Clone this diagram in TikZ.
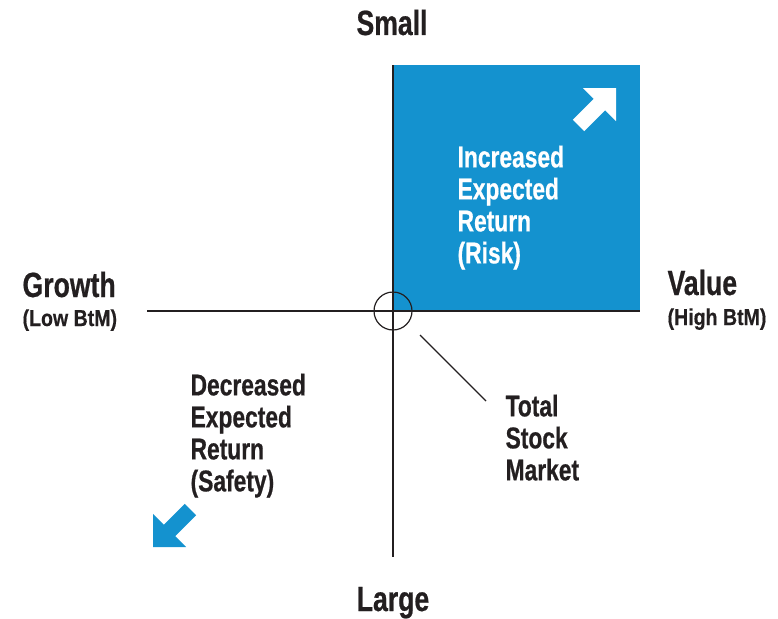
\documentclass[tikz,border=0pt]{standalone}
\usepackage{fontspec}
\newfontfamily\labelfont{Liberation Sans Bold}[FakeStretch=0.76, FakeBold=0.6]
\newfontfamily\notefont{Liberation Sans Bold}[FakeStretch=0.85, FakeBold=0.4]
\definecolor{quadblue}{RGB}{20,146,207}
\definecolor{inkdark}{RGB}{35,31,32}
\tikzset{every path/.style={inkdark, line width=1.2pt},
  axislabel/.style={inner sep=0pt, text=inkdark, font=\labelfont\fontsize{35}{38}\selectfont},
  sublabel/.style={inner sep=0pt, text=inkdark, font=\notefont\fontsize{23}{25}\selectfont},
  quadtext/.style={inner sep=0pt, align=left, anchor=north west, font=\labelfont\fontsize{30}{32}\selectfont},
  pics/blockarrow/.style={code={
    \fill[#1] (0,0) -- (-23.5,23.5) -- (-23.5,8) -- (-53,8) -- (-53,-8)
      -- (-23.5,-8) -- (-23.5,-23.5) -- cycle;}}}

\begin{document}
\begin{tikzpicture}[x=1pt,y=-1pt]
  \useasboundingbox (0,0) rectangle (778,618);
  % upper right quadrant
  \fill[quadblue] (393,65) rectangle (640,311);
  \pic[rotate=45] at (616,88) {blockarrow=white};
  \pic[rotate=225] at (153,547) {blockarrow=quadblue};

  \coordinate (top) at (393,65);
  \coordinate (bottom) at (393,557);
  \coordinate (left) at (147,311);
  \coordinate (right) at (640,311);
  \node[draw, circle, minimum size=38pt, inner sep=0pt] (origin) at (393,311) {};
  \draw (top) -- (bottom);
  \draw (left) -- (right);

  \node[axislabel, anchor=base] (small) at (392,35) {Small};
  \node[axislabel, anchor=base] (large) at (393,611) {Large};
  \node[axislabel, anchor=base west] (growth) at (22,297) {Growth};
  \node[sublabel, anchor=base west] (lowbtm) at (22,326) {(Low BtM)};
  \node[axislabel, anchor=base west] (value) at (667,295) {Value};
  \node[sublabel, anchor=base west] (highbtm) at (667,325) {(High BtM)};

  \node[quadtext, text=white] (risk) at (457,145) {Increased\\Expected\\Return\\(Risk)};
  \node[quadtext, text=inkdark] (safety) at (190,373) {Decreased\\Expected\\Return\\(Safety)};
  \node[quadtext, text=inkdark] (market) at (505,394) {Total\\Stock\\Market};

  \coordinate (leader) at (420,335);
  \coordinate (leaderend) at (486,401);
  \draw (leader) -- (leaderend);
\end{tikzpicture}
\end{document}
